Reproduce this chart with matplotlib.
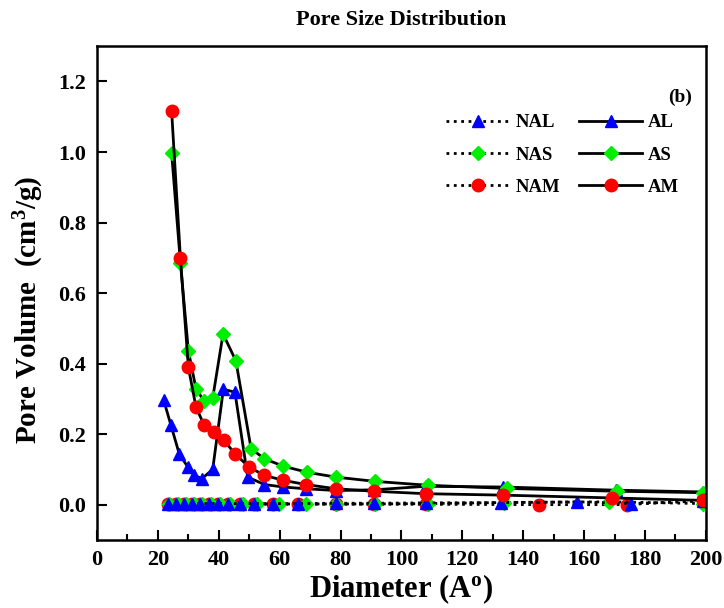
import matplotlib
matplotlib.use('Agg')
import matplotlib.pyplot as plt
from matplotlib.ticker import MultipleLocator

plt.rcParams['font.family'] = ['Liberation Serif', 'DejaVu Serif']
plt.rcParams['font.weight'] = 'bold'
plt.rcParams['mathtext.fontset'] = 'custom'
plt.rcParams['mathtext.rm'] = 'Liberation Serif:bold'
plt.rcParams['mathtext.bf'] = 'Liberation Serif:bold'
plt.rcParams['mathtext.default'] = 'bf'

# Werte
al_x = [21.9, 24.3, 27.0, 29.8, 31.9, 34.5, 38.0, 41.5, 45.3, 49.5, 55.0, 61.2, 68.6, 78.5, 91.0, 108.0, 133.2, 170.4, 199.0]
al_y = [0.296, 0.225, 0.144, 0.107, 0.083, 0.074, 0.100, 0.327, 0.319, 0.078, 0.057, 0.050, 0.045, 0.040, 0.042, 0.052, 0.050, 0.041, 0.036]

as_x = [24.5, 27.4, 30.0, 32.5, 35.2, 38.0, 41.4, 45.6, 50.6, 55.0, 61.2, 68.9, 78.5, 91.3, 108.6, 134.6, 170.8, 199.0]
as_y = [0.997, 0.686, 0.437, 0.329, 0.293, 0.302, 0.484, 0.408, 0.159, 0.130, 0.109, 0.092, 0.078, 0.066, 0.055, 0.046, 0.038, 0.034]

am_x = [24.5, 27.4, 30.0, 32.5, 35.2, 38.3, 41.6, 45.3, 49.9, 54.9, 61.2, 68.6, 78.5, 90.9, 108.0, 133.2, 169.3, 199.0]
am_y = [1.117, 0.699, 0.390, 0.277, 0.225, 0.206, 0.184, 0.144, 0.107, 0.083, 0.069, 0.057, 0.045, 0.038, 0.031, 0.027, 0.019, 0.012]

nal_x = [23.2, 25.9, 28.5, 31.1, 33.9, 36.9, 39.6, 43.1, 47.1, 51.7, 57.7, 65.9, 78.5, 91.0, 108.0, 132.6, 157.6, 175.4, 199.0]
nal_y = [0.003, 0.003, 0.003, 0.003, 0.003, 0.003, 0.003, 0.003, 0.003, 0.003, 0.003, 0.003, 0.004, 0.004, 0.005, 0.006, 0.008, 0.003, 0.010]

nas_x = [23.8, 26.5, 29.2, 31.8, 34.6, 37.5, 40.3, 43.8, 47.8, 52.4, 59.9, 68.6, 78.5, 91.3, 108.6, 133.8, 168.3, 199.0]
nas_y = [0.002, 0.002, 0.002, 0.002, 0.002, 0.002, 0.002, 0.002, 0.002, 0.002, 0.002, 0.002, 0.002, 0.002, 0.003, 0.006, 0.008, 0.003]

nam_x = [23.2, 25.9, 28.5, 31.1, 33.9, 36.9, 39.6, 43.1, 47.1, 51.7, 57.7, 65.9, 78.5, 91.0, 108.0, 145.3, 174.0, 199.0]
nam_y = [0.001, 0.001, 0.001, 0.001, 0.001, 0.001, 0.001, 0.001, 0.001, 0.001, 0.001, 0.001, 0.001, 0.001, 0.001, 0.000, 0.000, 0.012]

fig = plt.figure(figsize=(7.24, 6.08), dpi=100)
ax = fig.add_axes([0.134, 0.112, 0.841, 0.812])

ms = 9
lw = 2.0
ax.plot(nam_x, nam_y, ':', color='black', lw=lw, marker='o', ms=ms, mfc='red', mec='red', label='NAM')
ax.plot(nas_x, nas_y, ':', color='black', lw=lw, marker='D', ms=ms - 1.5, mfc='#00ee00', mec='#00ee00', label='NAS')
ax.plot(nal_x, nal_y, ':', color='black', lw=lw, marker='^', ms=ms, mfc='blue', mec='blue', label='NAL')
ax.plot(al_x, al_y, '-', color='black', lw=lw, marker='^', ms=ms, mfc='blue', mec='blue', label='AL')
ax.plot(as_x, as_y, '-', color='black', lw=lw, marker='D', ms=ms - 1.5, mfc='#00ee00', mec='#00ee00', label='AS')
ax.plot(am_x, am_y, '-', color='black', lw=lw, marker='o', ms=ms, mfc='red', mec='red', label='AM')

ax.set_xlim(0, 200)
ax.set_ylim(-0.1, 1.3)
ax.set_xticks(range(0, 201, 20))
ax.set_yticks([0.0, 0.2, 0.4, 0.6, 0.8, 1.0, 1.2])
ax.xaxis.set_minor_locator(MultipleLocator(10))
ax.tick_params(axis='both', which='both', direction='in', top=False, right=False, width=1.5, labelsize=16)
ax.tick_params(axis='both', which='major', length=7)
ax.tick_params(axis='x', which='minor', length=4)
ax.tick_params(axis='x', pad=7)
ax.tick_params(axis='y', pad=8)
for s in ax.spines.values():
    s.set_linewidth(1.8)

ax.set_xlabel('Diameter (A$^{o}$)', fontsize=22, fontweight='bold', labelpad=2)
ax.set_ylabel('Pore Volume  (cm$^{3}$/g)', fontsize=21, fontweight='bold')
ax.yaxis.set_label_coords(-0.084, 0.466)
ax.set_title('Pore Size Distribution', fontsize=16, fontweight='bold', pad=15)
ax.text(0.957, 0.897, '(b)', transform=ax.transAxes, ha='center', va='center', fontsize=14, fontweight='bold')

handles, labels = ax.get_legend_handles_labels()
order = ['NAL', 'NAS', 'NAM', 'AL', 'AS', 'AM']
h = [handles[labels.index(o)] for o in order]
ax.legend(h, order, ncol=2, loc='upper left', bbox_to_anchor=(0.573, 0.862), frameon=False,
          borderaxespad=0, borderpad=0, handlelength=3.4, handletextpad=0.3,
          columnspacing=1.0, labelspacing=0.8, numpoints=1,
          prop={'size': 13.5, 'weight': 'bold'})

fig.savefig('out.png', dpi=100)
